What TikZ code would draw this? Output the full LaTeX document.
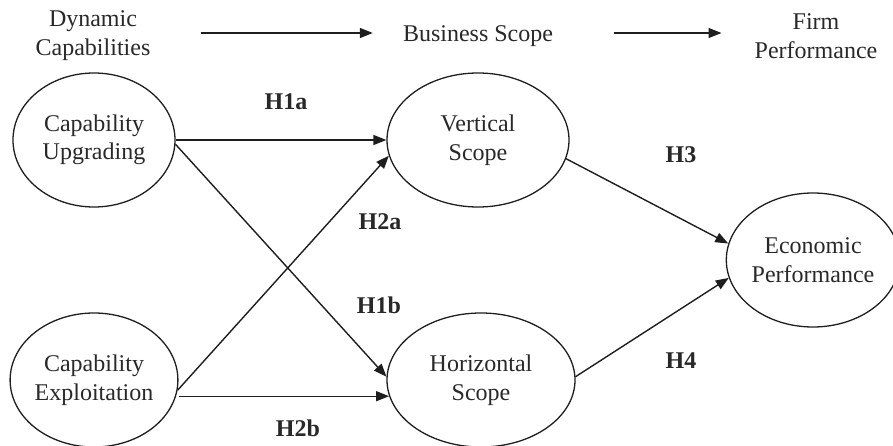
\documentclass[tikz,border=0pt]{standalone}
\usepackage{fontspec}
\setmainfont{Liberation Serif}
\usetikzlibrary{arrows.meta,shapes.geometric}
\definecolor{ink}{RGB}{30,30,30}
\definecolor{txt}{RGB}{40,40,40}
\tikzset{
  ell/.style={draw=ink, ellipse, line width=1.3pt, inner sep=0pt, align=center,
    text=txt, font=\fontsize{24}{28.5}\selectfont, minimum height=134pt},
  head/.style={inner sep=0pt, align=center, text=txt, font=\fontsize{24}{29}\selectfont},
  hyp/.style={inner sep=0pt, text=txt, font=\fontsize{24}{29}\selectfont\bfseries},
  arr/.style={draw=ink, line width=1.4pt, -{Triangle[length=13pt,width=10pt]}}
}
\begin{document}
\begin{tikzpicture}[x=1pt,y=1pt]
\useasboundingbox (0,0) rectangle (893,445);
% column headers
\node[head] (dc) at (93,409) {Dynamic\\Capabilities};
\node[head] (bs) at (478,409) {Business Scope};
\node[head] (fp) at (816,409) {Firm\\Performance};
\draw[arr, shorten <=50pt, shorten >=30pt] ([yshift=3pt]dc.east) -- ([yshift=3pt]bs.west);
\draw[arr, shorten <=61pt, shorten >=33pt] ([yshift=3pt]bs.east) -- ([yshift=3pt]fp.west);
% constructs
\node[ell, minimum width=162pt] (cu) at (94,305) {Capability\\Upgrading};
\node[ell, minimum width=182pt] (vs) at (478,305) {Vertical\\Scope};
\node[ell, minimum width=162pt] (ce) at (94,65) {Capability\\Exploitation};
\node[ell, minimum width=188pt] (hs) at (481,65) {Horizontal\\Scope};
\node[ell, minimum width=158pt] (ep) at (813,185) {Economic\\Performance};
% paths
\draw[arr] (cu) -- (vs);
\draw[arr] (cu.-3) -- (hs.178);
\draw[arr] (ce.-7) -- (vs.190);
\draw[arr] (hs.190 -| ce.east) -- (hs.190);
\draw[arr] (vs.-12) -- (ep.169);
\draw[arr] (hs.2) -- (ep.192);
% hypothesis labels
\node[hyp] (h1a) at (286,343) {H1a};
\node[hyp] (h2a) at (380,223) {H2a};
\node[hyp] (h1b) at (379,140) {H1b};
\node[hyp] (h2b) at (298,17) {H2b};
\node[hyp] (h3) at (681,290) {H3};
\node[hyp] (h4) at (681,84) {H4};
\end{tikzpicture}
\end{document}
